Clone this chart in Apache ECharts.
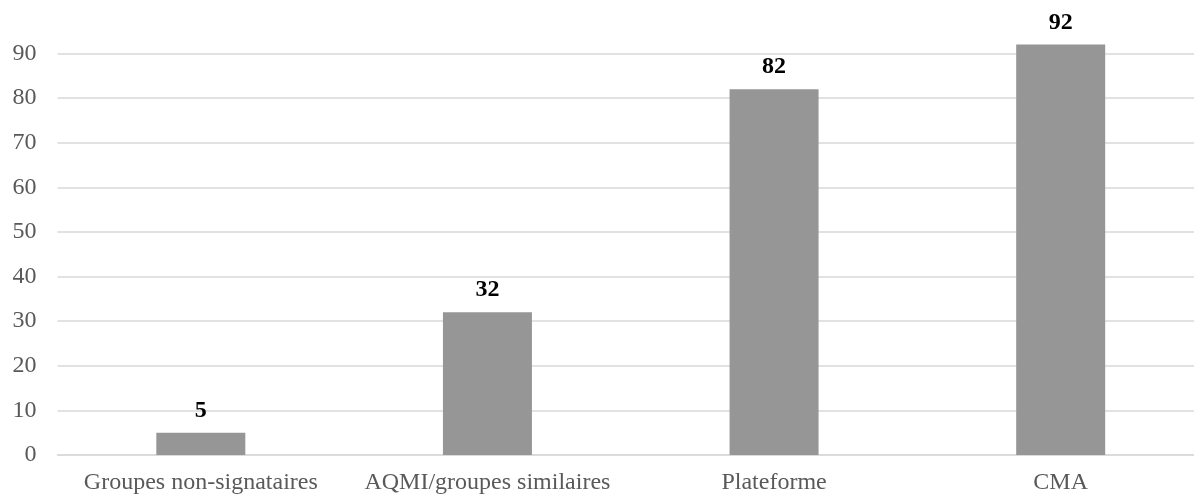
<!DOCTYPE html>
<html>
<head>
<meta charset="utf-8">
<script src="https://cdn.jsdelivr.net/npm/echarts@6/dist/echarts.min.js"></script>
<style>html,body{margin:0;padding:0;background:#fff}#c{width:1194px;height:498px}</style>
</head>
<body>
<div id="c"></div>
<script>
const categories = ['Groupes non-signataires', 'AQMI/groupes similaires', 'Plateforme', 'CMA'];
const values = [5, 32, 82, 92];
const yTicks = { min: 0, max: 90, interval: 10 };

const chart = echarts.init(document.getElementById('c'));
const font = 'Liberation Serif, Times New Roman, serif';
chart.setOption({
  animation: false,
  backgroundColor: '#ffffff',
  grid: { left: 57.5, width: 1146.5, top: 53.5, bottom: 43, containLabel: false, outerBoundsMode: 'none' },
  xAxis: {
    type: 'category',
    data: categories,
    axisLine: { show: true, lineStyle: { color: '#d9d9d9', width: 1.5 } },
    axisTick: { show: false },
    axisLabel: { color: '#595959', fontFamily: font, fontSize: 24, margin: 16, interval: 0 }
  },
  yAxis: {
    type: 'value',
    min: yTicks.min, max: yTicks.max, interval: yTicks.interval,
    axisLine: { show: false },
    axisTick: { show: false },
    splitLine: { lineStyle: { color: '#d9d9d9', width: 1.5 } },
    axisLabel: { color: '#595959', fontFamily: font, fontSize: 24, margin: 21 }
  },
  series: [{
    type: 'bar',
    data: values,
    barWidth: 89,
    clip: false,
    itemStyle: { color: '#969696' },
    label: {
      show: true, position: 'top', distance: 10,
      color: '#000000', fontFamily: font, fontSize: 24, fontWeight: 'bold'
    }
  }]
});
</script>
</body>
</html>
